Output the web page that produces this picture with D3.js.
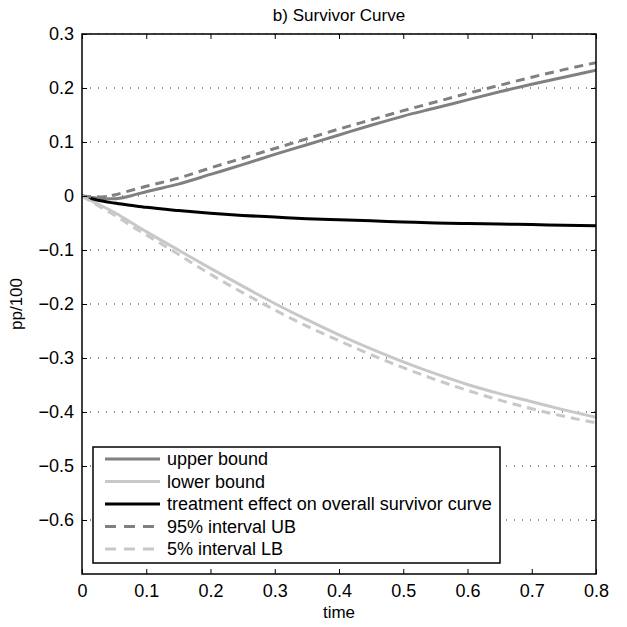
<!DOCTYPE html>
<html>
<head>
<meta charset="utf-8">
<script src="https://cdn.jsdelivr.net/npm/d3@7"></script>
<style>
  body { margin: 0; background: #fff; }
  text { font-family: "Liberation Sans", Arial, sans-serif; }
</style>
</head>
<body>
<div id="chart"></div>
<script>
// time grid shared by all series
const times = [0, 0.025, 0.05, 0.075, 0.1, 0.15, 0.2, 0.25, 0.3, 0.35, 0.4, 0.45, 0.5, 0.55, 0.6, 0.65, 0.7, 0.75, 0.8];

const upperBound = [0, -0.004, -0.005, 0, 0.008, 0.022, 0.04, 0.058, 0.077, 0.095, 0.113, 0.131, 0.148, 0.163, 0.178, 0.193, 0.207, 0.22, 0.233];
const lowerBound = [0, -0.015, -0.03, -0.048, -0.066, -0.1, -0.134, -0.167, -0.199, -0.229, -0.257, -0.283, -0.307, -0.329, -0.349, -0.366, -0.381, -0.396, -0.41];
const treatment = [0, -0.008, -0.013, -0.017, -0.021, -0.027, -0.032, -0.036, -0.039, -0.042, -0.044, -0.046, -0.048, -0.05, -0.051, -0.052, -0.053, -0.054, -0.055];
const ub95 = [0, -0.002, 0.002, 0.01, 0.018, 0.033, 0.052, 0.07, 0.088, 0.106, 0.124, 0.141, 0.158, 0.174, 0.19, 0.205, 0.22, 0.234, 0.247];
const lb5 = [0, -0.018, -0.035, -0.054, -0.072, -0.108, -0.145, -0.179, -0.211, -0.241, -0.268, -0.294, -0.318, -0.34, -0.36, -0.378, -0.394, -0.408, -0.42];

const xTicks = [0, 0.1, 0.2, 0.3, 0.4, 0.5, 0.6, 0.7, 0.8];
const yTicks = [0.3, 0.2, 0.1, 0, -0.1, -0.2, -0.3, -0.4, -0.5, -0.6];

const series = [
  { name: "upper bound", values: upperBound, color: "#808080", dash: null },
  { name: "lower bound", values: lowerBound, color: "#c8c8c8", dash: null },
  { name: "treatment effect on overall survivor curve", values: treatment, color: "#000000", dash: null },
  { name: "95% interval UB", values: ub95, color: "#808080", dash: "9,6" },
  { name: "5% interval LB", values: lb5, color: "#c8c8c8", dash: "9,6" }
];

const width = 627, height = 627;
const margin = { top: 34, right: 31, bottom: 53, left: 82 };
const plotW = width - margin.left - margin.right;
const plotH = height - margin.top - margin.bottom;

const svg = d3.select("#chart")
  .append("svg")
  .attr("width", width)
  .attr("height", height);

const x = d3.scaleLinear().domain([0, 0.8]).range([0, plotW]);
const y = d3.scaleLinear().domain([-0.7, 0.3]).range([plotH, 0]);

const g = svg.append("g")
  .attr("transform", `translate(${margin.left},${margin.top})`);

// horizontal dotted grid
g.selectAll(".grid")
  .data(yTicks)
  .join("line")
  .attr("class", "grid")
  .attr("x1", 0)
  .attr("x2", plotW)
  .attr("y1", d => y(d))
  .attr("y2", d => y(d))
  .attr("stroke", "#222")
  .attr("stroke-width", 1)
  .attr("stroke-dasharray", "1,7");

// curves
const line = d3.line()
  .x((d, i) => x(times[i]))
  .y(d => y(d))
  .curve(d3.curveMonotoneX);

g.append("clipPath").attr("id", "plotclip")
  .append("rect").attr("width", plotW).attr("height", plotH);

g.append("g")
  .attr("clip-path", "url(#plotclip)")
  .selectAll("path")
  .data(series)
  .join("path")
  .attr("d", d => line(d.values))
  .attr("fill", "none")
  .attr("stroke", d => d.color)
  .attr("stroke-width", 3)
  .attr("stroke-dasharray", d => d.dash);

// axes (inward ticks on all sides)
const fmt = d => d === 0 ? "0" : d3.format(".1f")(d).replace("-", "\u2212");
const tickLen = 5;

g.append("g")
  .attr("transform", `translate(0,${plotH})`)
  .call(d3.axisBottom(x).tickValues(xTicks).tickSize(-tickLen).tickPadding(10).tickFormat(fmt));
g.append("g")
  .call(d3.axisTop(x).tickValues(xTicks).tickSize(-tickLen).tickFormat(""));
g.append("g")
  .call(d3.axisLeft(y).tickValues(yTicks).tickSize(-tickLen).tickPadding(8).tickFormat(fmt));
g.append("g")
  .attr("transform", `translate(${plotW},0)`)
  .call(d3.axisRight(y).tickValues(yTicks).tickSize(-tickLen).tickFormat(""));

g.selectAll(".domain").remove();
g.selectAll(".tick line").attr("stroke", "#000").attr("stroke-width", 1);
g.selectAll(".tick text").style("font-size", "18px").attr("fill", "#000");

g.append("rect")
  .attr("width", plotW)
  .attr("height", plotH)
  .attr("fill", "none")
  .attr("stroke", "#000")
  .attr("stroke-width", 1.5);

// title and axis labels
svg.append("text")
  .attr("x", margin.left + plotW / 2)
  .attr("y", 21)
  .attr("text-anchor", "middle")
  .style("font-size", "17px")
  .text("b) Survivor Curve");

svg.append("text")
  .attr("x", margin.left + plotW / 2)
  .attr("y", 618)
  .attr("text-anchor", "middle")
  .style("font-size", "17px")
  .text("time");

svg.append("text")
  .attr("transform", `translate(22,${margin.top + plotH / 2}) rotate(-90)`)
  .attr("text-anchor", "middle")
  .style("font-size", "17px")
  .text("pp/100");

// legend
const legend = svg.append("g").attr("class", "legend");
const legX = 93, legY = 447, legW = 407, legH = 116;
legend.append("rect")
  .attr("x", legX)
  .attr("y", legY)
  .attr("width", legW)
  .attr("height", legH)
  .attr("fill", "#fff")
  .attr("stroke", "#000")
  .attr("stroke-width", 1.5);

const rowY = d3.scaleLinear().domain([0, 4]).range([legY + 12, legY + 102]);
const rows = legend.selectAll(".row")
  .data(series)
  .join("g")
  .attr("class", "row")
  .attr("transform", (d, i) => `translate(0,${rowY(i)})`);

rows.append("line")
  .attr("x1", 105)
  .attr("x2", 160)
  .attr("stroke", d => d.color)
  .attr("stroke-width", 3)
  .attr("stroke-dasharray", d => d.dash ? "11,8" : null);

rows.append("text")
  .attr("x", 167)
  .attr("dy", "0.35em")
  .style("font-size", "18px")
  .text(d => d.name);
</script>
</body>
</html>
